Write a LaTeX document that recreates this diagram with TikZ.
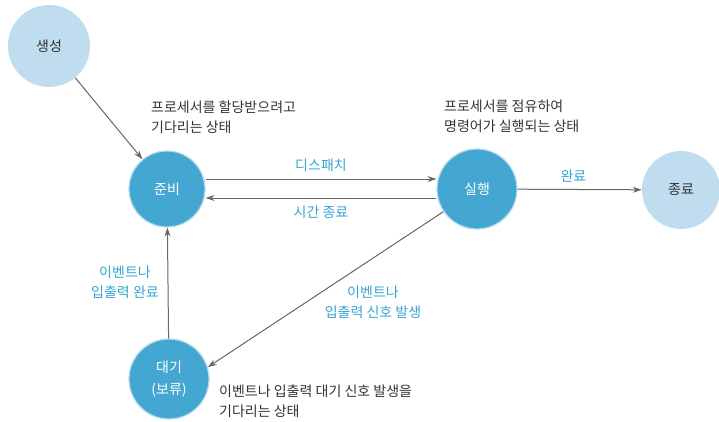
\documentclass[tikz,border=0pt]{standalone}
\usepackage{fontspec}
\setmainfont{Noto Sans CJK KR}
\usetikzlibrary{arrows.meta}
\definecolor{darkc}{HTML}{44A7D2}
\definecolor{lightc}{HTML}{BFDDEE}
\definecolor{bluet}{HTML}{34A5D3}
\definecolor{arrowc}{HTML}{666666}
\tikzset{
  x=1pt, y=-1pt,
  state/.style={circle, minimum size=78pt, inner sep=0pt, align=center, font=\fontsize{14}{22}\selectfont},
  darkstate/.style={state, fill=darkc, draw=darkc!40, line width=1.2pt, text=white},
  lightstate/.style={state, fill=lightc, text=black!80},
  conn/.style={draw=arrowc, line width=1pt, -{Stealth[length=9pt,width=6pt]}},
  lbl/.style={text=bluet, font=\fontsize{14}{20}\selectfont, align=center, inner sep=0pt},
  note/.style={text=black!80, font=\fontsize{14}{20}\selectfont, align=left, anchor=north west, inner sep=0pt}
}
\begin{document}
\begin{tikzpicture}
\useasboundingbox (0,0) rectangle (719,422);
\node[lightstate, minimum size=82pt] (create) at (49,46) {생성};
\node[darkstate, minimum size=76pt] (ready) at (167,189) {준비};
\node[darkstate, minimum size=80pt] (run) at (477,189) {실행};
\node[lightstate] (term) at (681,190) {종료};
\node[darkstate, minimum size=80pt] (wait) at (169,379) {대기\\(보류)};

\draw[conn] (create) -- (ready);
\draw[conn] ([yshift=10pt]ready.east) -- node[lbl, yshift=14pt] (l1) {디스패치} ([yshift=10pt]run.west);
\draw[conn] ([yshift=-9pt]run.west) -- node[lbl, yshift=-14pt] (l2) {시간 종료} ([yshift=-9pt]ready.east);
\draw[conn] (run) -- node[lbl, pos=0.45, yshift=13pt] (l3) {완료} (term);
\draw[conn] (run.214) -- (wait.17);
\draw[conn] (wait) -- (ready);

\node[lbl] (l4) at (373,302) {이벤트나\\입출력 신호 발생};
\node[lbl] (l5) at (125,282) {이벤트나\\입출력 완료};

\node[note] (n1) at (151,101) {프로세서를 할당받으려고\\기다리는 상태};
\node[note] (n2) at (444,100) {프로세서를 점유하여\\명령어가 실행되는 상태};
\node[note] (n3) at (219,385) {이벤트나 입출력 대기 신호 발생을\\기다리는 상태};
\end{tikzpicture}
\end{document}
